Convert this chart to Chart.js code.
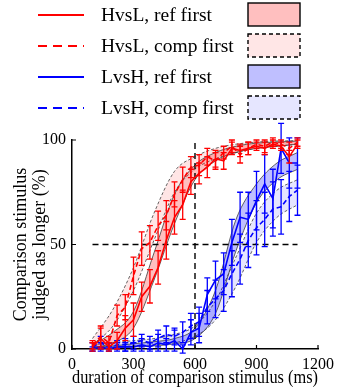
<!DOCTYPE html>
<html>
<head>
<meta charset="utf-8">
<script src="https://cdn.jsdelivr.net/npm/chart.js@4.4.0/dist/chart.umd.min.js"></script>
<style>
  html, body { margin: 0; padding: 0; background: #fff; }
  #wrap { width: 340px; height: 389px; }
</style>
</head>
<body>
<div id="wrap"><canvas id="myChart" width="340" height="389"></canvas></div>
<script>
// comparison durations (ms) of the measured points
const durations = [100, 140, 180, 220, 260, 300, 340, 380, 420, 460, 500, 540, 580, 620, 660, 700, 740, 780, 820, 860, 900, 940, 980, 1020, 1060, 1100];

// % judged longer, with error bar half lengths
const redRefY   = [1, 5, 1, 4, 10, 14, 25, 30, 39, 52, 63, 69, 80, 84, 87, 91, 90, 96, 95, 96, 97, 96, 98, 97, 92, 98];
const redRefErr = [2, 5, 2, 4, 6, 8, 7, 8, 8, 9, 8, 7, 6, 5, 5, 4, 4, 3, 3, 3, 2, 3, 2, 2, 3, 2];
const redCompY   = [2, 6, 3, 16, 20, 35, 48, 51, 59, 64, 74, 81, 87, 88, 92, 90, 94, 97, 93, 96, 98, 97, 99, 98, 96, 99];
const redCompErr = [2, 5, 3, 5, 6, 9, 8, 8, 7, 7, 6, 6, 5, 5, 4, 4, 3, 3, 4, 3, 2, 3, 2, 2, 3, 2];
const blueRefY   = [0, 1, 0, 1, 1, 1, 2, 1, 3, 2, 4, 0, 8, 10, 26, 33, 36, 51, 63, 62, 71, 79, 72, 96, 89, 89];
const blueRefErr = [1, 2, 1, 2, 2, 2, 3, 2, 4, 3, 5, 2, 6, 7, 8, 9, 10, 11, 12, 13, 14, 14, 14, 12, 12, 12];
const blueCompY   = [1, 3, 1, 2, 2, 3, 4, 3, 5, 7, 6, 8, 11, 13, 20, 24, 28, 36, 43, 52, 58, 62, 67, 68, 73, 76];
const blueCompErr = [2, 3, 2, 2, 3, 3, 3, 3, 4, 4, 4, 5, 6, 7, 8, 9, 10, 11, 12, 13, 13, 13, 13, 13, 12, 12];

// fitted curve confidence bands
const bandX = [100, 200, 300, 400, 500, 600, 700, 800, 900, 1000, 1100];
const redRefLo  = [0.5, 3, 10, 33, 60, 81, 90, 94, 96, 97, 98];
const redRefHi  = [2, 8, 18, 46, 74, 88, 94, 97, 98.5, 99, 99.5];
const redCompLo = [2, 11, 28, 52, 75, 86, 91, 94, 96, 97, 98];
const redCompHi = [5, 19, 39, 65, 85, 92, 96, 98, 99, 99.5, 99.7];
const blueRefLo  = [0, 0.5, 1, 1.5, 2.5, 5, 17, 47, 70, 81, 86];
const blueRefHi  = [1, 1.5, 2.5, 3.5, 5, 10, 28, 62, 79, 89, 94];
const blueCompLo = [0.5, 1, 1.5, 2, 3, 6, 14, 30, 51, 63, 69];
const blueCompHi = [2, 3, 4, 5, 7, 11, 23, 44, 65, 76, 81];

// guide lines
const halfLineX = [100, 1100];
const halfLineY = [50, 50];
const refLineX = [600, 600];
const refLineY = [0, 100];

const xTicks = [0, 300, 600, 900, 1200];
const yTicks = [0, 50, 100];

const legendItems = [
  { label: 'HvsL, ref first', color: '#ff0000', dash: false, fill: '#ffbfbf' },
  { label: 'HvsL, comp first', color: '#ff0000', dash: true, fill: '#ffe6e6' },
  { label: 'LvsH, ref first', color: '#0000ff', dash: false, fill: '#bfbfff' },
  { label: 'LvsH, comp first', color: '#0000ff', dash: true, fill: '#e6e6ff' }
];

const FONT = '"Liberation Serif", "Times New Roman", serif';

function pts(xs, ys) {
  return xs.map((x, i) => ({ x: x, y: ys[i] }));
}

function band(lo, hi, fill, dashed) {
  const edge = {
    type: 'line', borderColor: '#3c3c3c', borderWidth: 0.8,
    borderDash: dashed ? [3, 2] : [], pointRadius: 0,
    cubicInterpolationMode: 'monotone', order: 3
  };
  return [
    Object.assign({}, edge, { data: pts(bandX, lo), fill: false }),
    Object.assign({}, edge, { data: pts(bandX, hi), fill: '-1', backgroundColor: fill })
  ];
}

function series(ys, errs, color, dashed) {
  return {
    type: 'line', data: pts(durations, ys), errors: errs,
    borderColor: color, borderWidth: 1.6, borderDash: dashed ? [5, 3] : [],
    pointRadius: 0, tension: 0, fill: false, order: 1, clip: false
  };
}

function guide(xs, ys) {
  return {
    type: 'line', data: pts(xs, ys), borderColor: '#000', borderWidth: 1.4,
    borderDash: [6, 4], pointRadius: 0, fill: false, order: 2
  };
}

// error bars with caps, drawn right after their line
const errorBars = {
  id: 'errorBars',
  afterDatasetDraw(chart, args) {
    const ds = chart.data.datasets[args.index];
    if (!ds.errors) return;
    const ctx = chart.ctx;
    const yScale = chart.scales.y;
    ctx.save();
    ctx.strokeStyle = ds.borderColor;
    ctx.lineWidth = 1.3;
    ctx.setLineDash([]);
    args.meta.data.forEach((p, i) => {
      const v = ds.data[i].y, e = ds.errors[i];
      const y1 = yScale.getPixelForValue(v - e);
      const y2 = yScale.getPixelForValue(v + e);
      ctx.beginPath();
      ctx.moveTo(p.x, y1); ctx.lineTo(p.x, y2);
      ctx.moveTo(p.x - 3, y1); ctx.lineTo(p.x + 3, y1);
      ctx.moveTo(p.x - 3, y2); ctx.lineTo(p.x + 3, y2);
      ctx.stroke();
    });
    ctx.restore();
  }
};

// inward tick marks + legend at the top
const extras = {
  id: 'extras',
  afterDraw(chart) {
    const ctx = chart.ctx;
    const xs = chart.scales.x, ys = chart.scales.y;
    const area = chart.chartArea;
    ctx.save();
    ctx.strokeStyle = '#000';
    ctx.lineWidth = 1.2;
    ctx.beginPath();
    xTicks.forEach(t => {
      const px = xs.getPixelForValue(t);
      ctx.moveTo(px, area.bottom); ctx.lineTo(px, area.bottom - 4);
    });
    yTicks.forEach(t => {
      const py = ys.getPixelForValue(t);
      ctx.moveTo(area.left, py); ctx.lineTo(area.left + 4, py);
    });
    ctx.stroke();

    ctx.font = '19.5px ' + FONT;
    ctx.textBaseline = 'middle';
    ctx.fillStyle = '#000';
    legendItems.forEach((it, i) => {
      const y = 15 + i * 31;
      ctx.strokeStyle = it.color;
      ctx.lineWidth = 2;
      ctx.setLineDash(it.dash ? [9, 6] : []);
      ctx.beginPath();
      ctx.moveTo(38, y); ctx.lineTo(84, y);
      ctx.stroke();
      ctx.fillText(it.label, 101, y + 1);
      ctx.fillStyle = it.fill;
      ctx.fillRect(248, y - 12, 52, 23);
      ctx.strokeStyle = '#000';
      ctx.lineWidth = 1.4;
      ctx.setLineDash(it.dash ? [4, 3] : []);
      ctx.strokeRect(248, y - 12, 52, 23);
      ctx.fillStyle = '#000';
    });
    ctx.restore();
  }
};

const ctx = document.getElementById('myChart');

new Chart(ctx, {
  type: 'line',
  data: {
    datasets: [
      ...band(redRefLo, redRefHi, 'rgba(255,0,0,0.25)', false),
      ...band(redCompLo, redCompHi, 'rgba(255,0,0,0.1)', true),
      ...band(blueRefLo, blueRefHi, 'rgba(0,0,255,0.25)', false),
      ...band(blueCompLo, blueCompHi, 'rgba(0,0,255,0.1)', true),
      guide(halfLineX, halfLineY),
      guide(refLineX, refLineY),
      series(redRefY, redRefErr, '#ff0000', false),
      series(redCompY, redCompErr, '#ff0000', true),
      series(blueRefY, blueRefErr, '#0000ff', false),
      series(blueCompY, blueCompErr, '#0000ff', true)
    ]
  },
  options: {
    responsive: false,
    animation: false,
    layout: { autoPadding: false, padding: { top: 140, right: 19, left: 0, bottom: 0 } },
    plugins: { legend: { display: false }, tooltip: { enabled: false } },
    scales: {
      x: {
        type: 'linear', min: 0, max: 1200,
        afterFit(scale) { scale.height = 40; },
        afterBuildTicks(scale) { scale.ticks = xTicks.map(v => ({ value: v })); },
        grid: { display: false, drawTicks: false },
        border: { display: true, color: '#000', width: 1.5 },
        ticks: { color: '#000', padding: 6, maxRotation: 0, autoSkip: false,
                 callback: v => String(v), font: { family: FONT, size: 16 } },
        title: { display: true, text: 'duration of comparison stimulus (ms)', color: '#000',
                 padding: { top: 0, bottom: 0 }, font: { family: FONT, size: 18 } }
      },
      y: {
        min: 0, max: 100,
        afterFit(scale) { scale.width = 72; },
        afterBuildTicks(scale) { scale.ticks = yTicks.map(v => ({ value: v })); },
        grid: { display: false, drawTicks: false },
        border: { display: true, color: '#000', width: 1.5 },
        ticks: { color: '#000', padding: 6, callback: v => String(v), font: { family: FONT, size: 16 } },
        title: { display: true, text: ['Comparison stimulus', 'judged as longer (%)'], color: '#000',
                 padding: { top: 11, bottom: 0 }, font: { family: FONT, size: 18, lineHeight: 1.1 } }
      }
    }
  },
  plugins: [errorBars, extras]
});
</script>
</body>
</html>
